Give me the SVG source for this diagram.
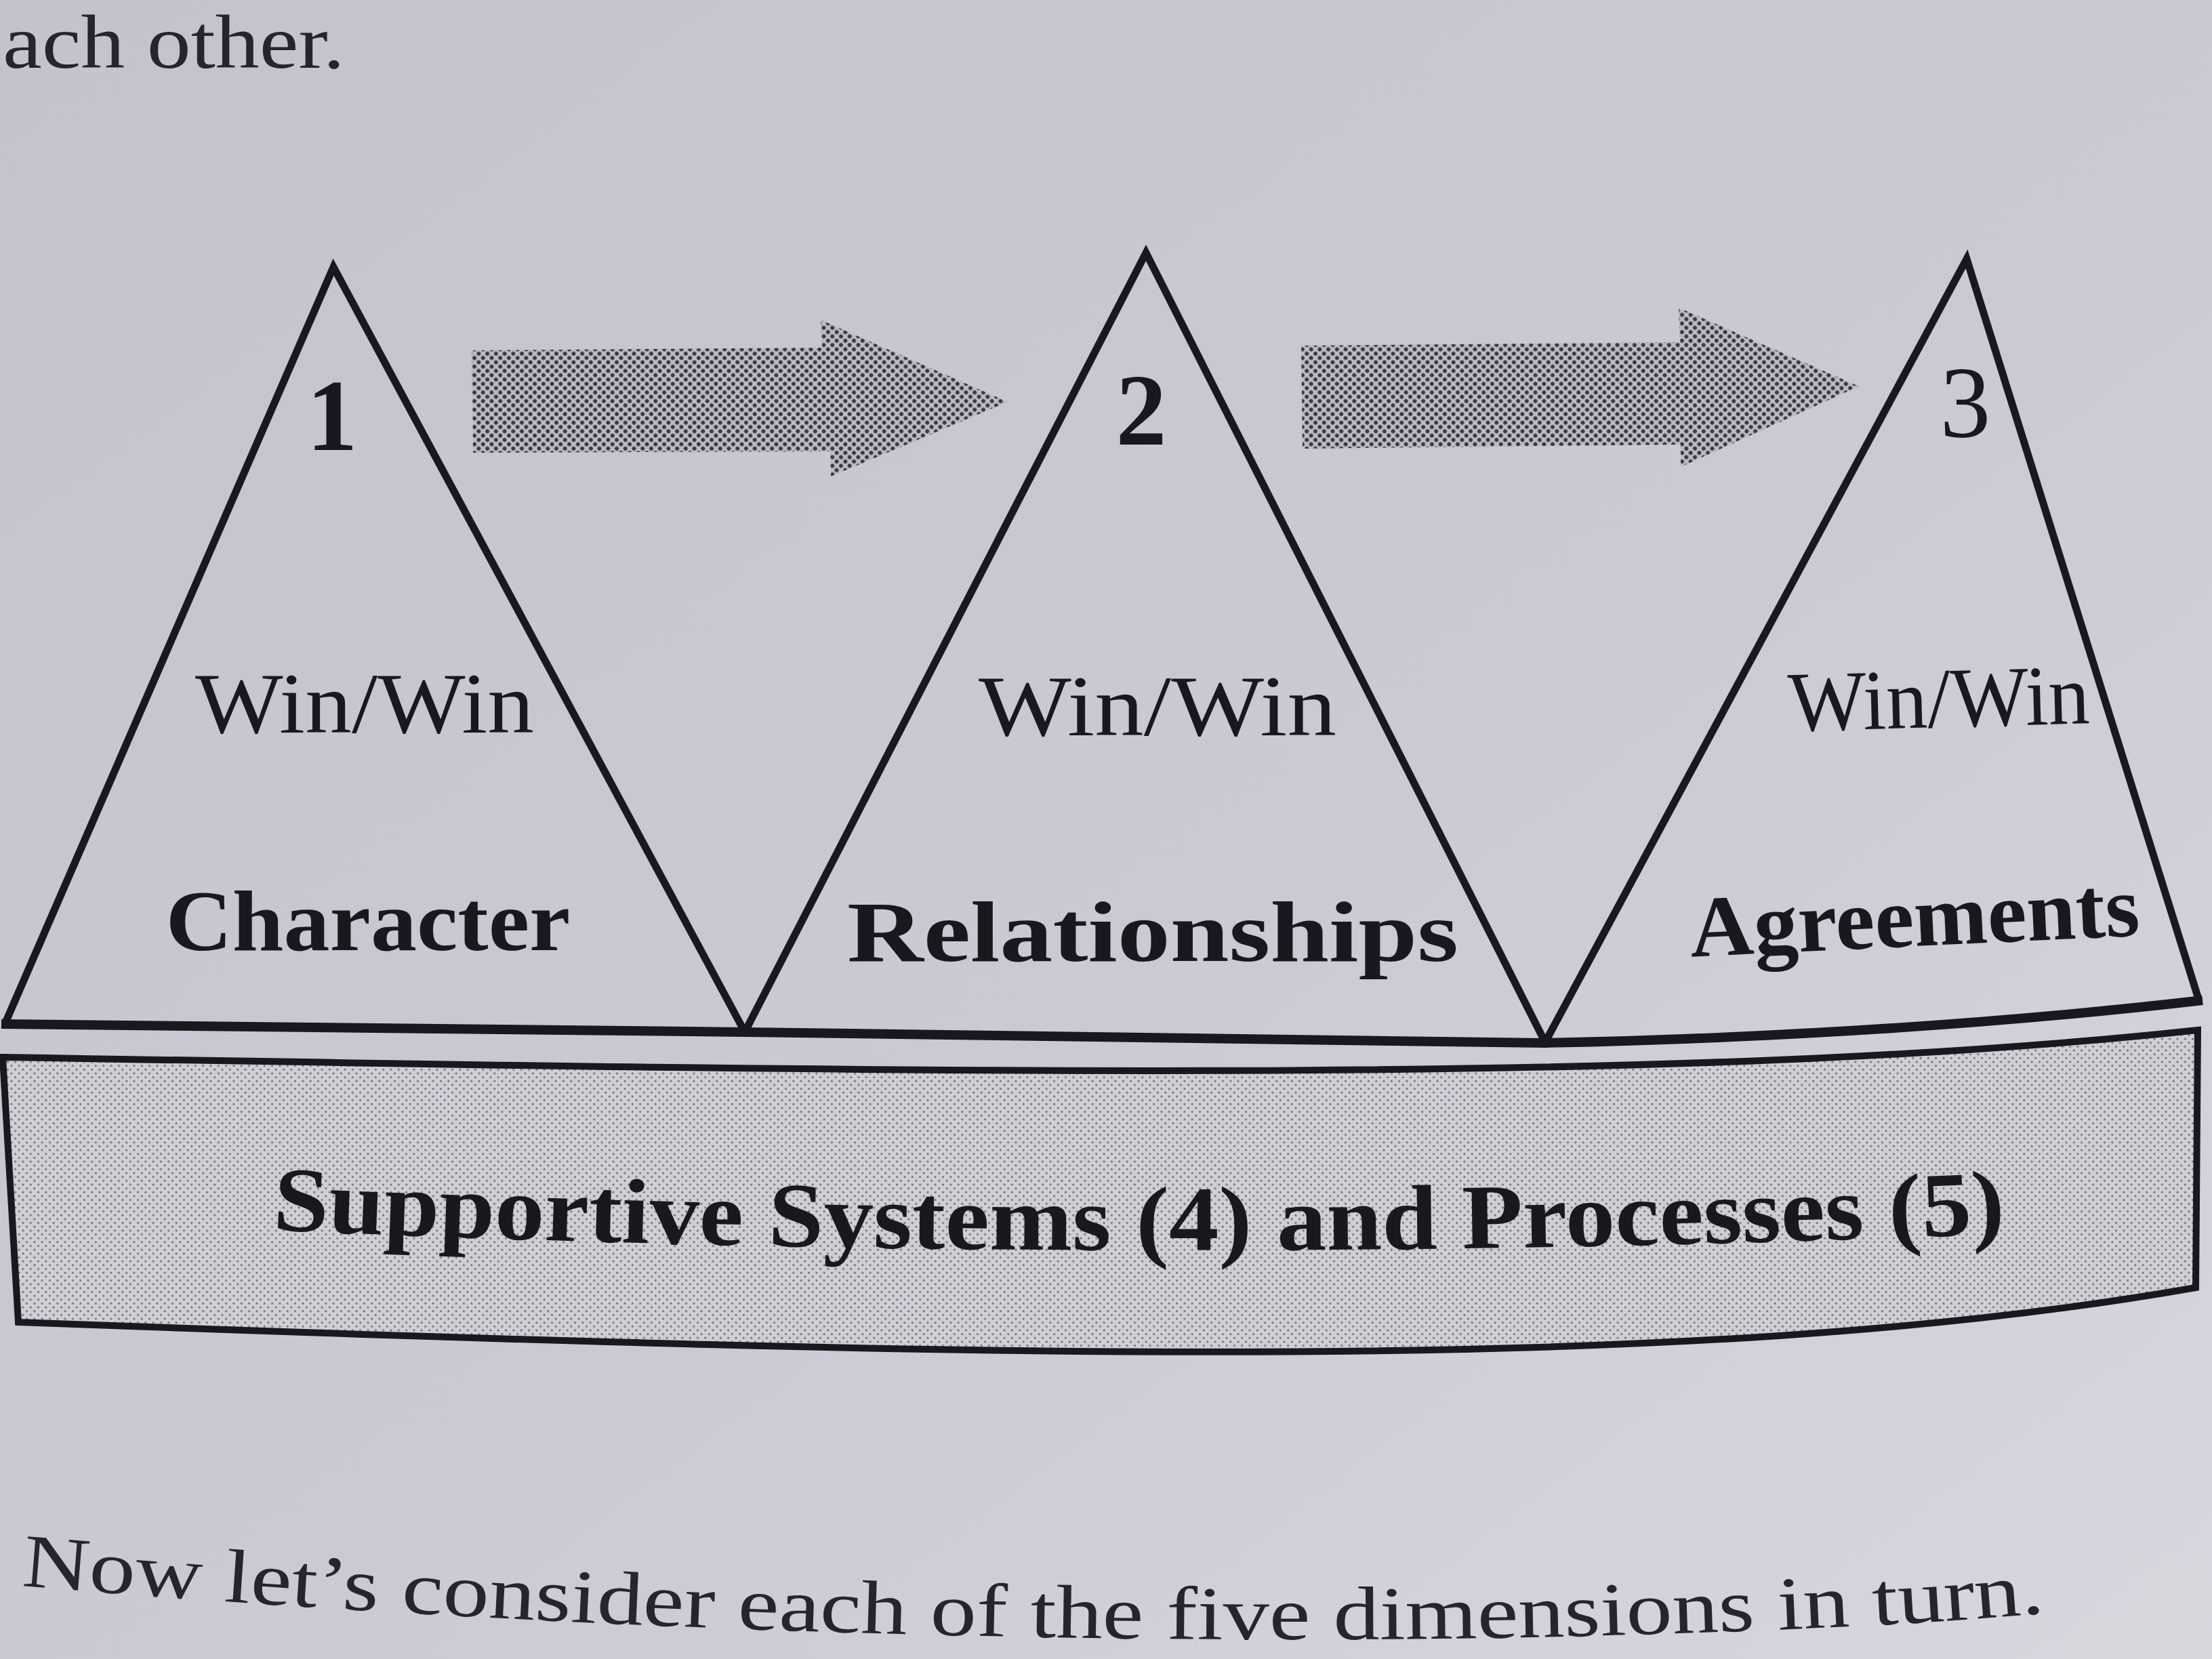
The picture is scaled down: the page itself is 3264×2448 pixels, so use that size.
<svg xmlns="http://www.w3.org/2000/svg" width="3264" height="2448" viewBox="0 0 3264 2448">
  <style>
    .edge { fill: none; stroke: #1a181f; stroke-width: 11; stroke-linejoin: miter; }
    .thick { fill: none; stroke: #1a181f; stroke-width: 14; stroke-linejoin: round; }
    .serif { font-family: "Liberation Serif", "DejaVu Serif", serif; fill: #1a181f; }
    .bold { font-weight: bold; }
    .num { font-size: 150px; text-anchor: middle; }
    .win { font-size: 126px; text-anchor: middle; }
    .name { font-size: 128px; font-weight: bold; text-anchor: middle; }
    .page { font-family: "Liberation Serif", "DejaVu Serif", serif; fill: #26252c; font-size: 112px; }
  </style>
  <defs>
    <linearGradient id="paper" x1="0" y1="0" x2="1" y2="1">
      <stop offset="0" stop-color="#c5c2ce"/>
      <stop offset="0.55" stop-color="#cbc9d3"/>
      <stop offset="1" stop-color="#d6d8de"/>
    </linearGradient>
    <pattern id="dotsDark" width="9" height="9" patternUnits="userSpaceOnUse" patternTransform="rotate(45)">
      <rect width="9" height="9" fill="#bdbbc5"/>
      <circle cx="4.5" cy="4.5" r="3.0" fill="#3a3840"/>
    </pattern>
    <pattern id="dotsLight" width="8" height="8" patternUnits="userSpaceOnUse" patternTransform="rotate(45)">
      <rect width="8" height="8" fill="#cfcfd6"/>
      <circle cx="4" cy="4" r="1.6" fill="#6d6b74"/>
    </pattern>
    <path id="supportPath" d="M402,1815 Q1700,1872 2962,1820"/>
    <path id="bottomPath" d="M31,2340 C900,2412 1700,2428 2300,2415 C2700,2405 2900,2392 3040,2378"/>
  </defs>

  <rect width="3264" height="2448" fill="url(#paper)"/>

  <text class="page" x="4" y="100" textLength="505" lengthAdjust="spacingAndGlyphs">ach other.</text>

  <g id="connectors">
    <path id="arrow1" d="M696,517 L1213,513 L1211,472 L1487,593 L1226,703 L1225,666 L698,668 Z" fill="url(#dotsDark)"/>
    <path id="arrow2" d="M1920,510 L2479,505 L2477,454 L2743,570 L2480,689 L2480,656 L1922,662 Z" fill="url(#dotsDark)"/>
  </g>

  <g id="base">
    <path d="M4,1560 C1500,1585 2500,1600 3243,1520 L3240,1900 C2500,2030 1500,2005 27,1951 Z" fill="url(#dotsLight)" stroke="#1a181f" stroke-width="10" stroke-linejoin="miter"/>
    <text class="serif bold" font-size="136"><textPath href="#supportPath" textLength="2558" lengthAdjust="spacingAndGlyphs">Supportive Systems (4) and Processes (5)</textPath></text>
  </g>

  <g id="tri1">
    <path class="edge" d="M8,1509 L492,394 L1098,1521"/>
    <text class="serif bold num" x="490" y="664">1</text>
    <text class="serif win" x="538" y="1081" textLength="500" lengthAdjust="spacingAndGlyphs">Win/Win</text>
    <text class="serif name" x="543" y="1402" textLength="597" lengthAdjust="spacingAndGlyphs">Character</text>
  </g>

  <g id="tri2">
    <path class="edge" d="M1100,1521 L1691,373 L2280,1538"/>
    <text class="serif bold num" x="1684" y="656">2</text>
    <text class="serif win" x="1708" y="1085" textLength="528" lengthAdjust="spacingAndGlyphs">Win/Win</text>
    <text class="serif name" x="1701" y="1418" textLength="902" lengthAdjust="spacingAndGlyphs">Relationships</text>
  </g>

  <g id="tri3">
    <path class="edge" d="M2280,1538 L2902,382 L3245,1477"/>
    <text class="serif num" x="2900" y="645">3</text>
    <text class="serif win" x="2862" y="1073" textLength="445" lengthAdjust="spacingAndGlyphs" transform="rotate(-1.5 2862 1073)">Win/Win</text>
    <text class="serif name" x="2827" y="1396" textLength="664" lengthAdjust="spacingAndGlyphs" transform="rotate(-2.7 2827 1396)">Agreements</text>
  </g>

  <path class="thick" d="M2,1511 L1100,1523 L2280,1539 Q2800,1528 3250,1476"/>

  <text class="page"><textPath href="#bottomPath" textLength="2990" lengthAdjust="spacingAndGlyphs">Now let’s consider each of the five dimensions in turn.</textPath></text>
</svg>
